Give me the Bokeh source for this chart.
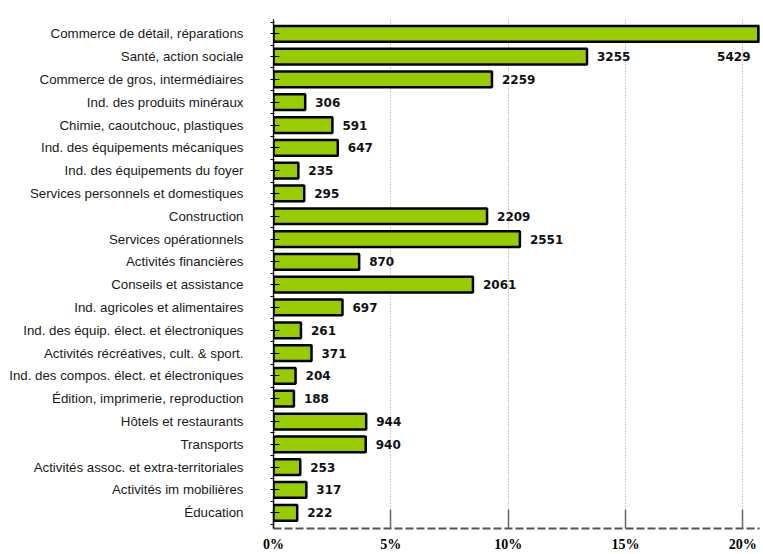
from bokeh.plotting import figure
from bokeh.models import Range1d, FixedTicker, PrintfTickFormatter, ColumnDataSource
from bokeh.core.properties import value
from bokeh.embed import file_html
from bokeh.resources import INLINE

categories = [
    "Commerce de détail, réparations",
    "Santé, action sociale",
    "Commerce de gros, intermédiaires",
    "Ind. des produits minéraux",
    "Chimie, caoutchouc, plastiques",
    "Ind. des équipements mécaniques",
    "Ind. des équipements du foyer",
    "Services personnels et domestiques",
    "Construction",
    "Services opérationnels",
    "Activités financières",
    "Conseils et assistance",
    "Ind. agricoles et alimentaires",
    "Ind. des équip. élect. et électroniques",
    "Activités récréatives, cult. & sport.",
    "Ind. des compos. élect. et électroniques",
    "Édition, imprimerie, reproduction",
    "Hôtels et restaurants",
    "Transports",
    "Activités assoc. et extra-territoriales",
    "Activités im mobilières",
    "Éducation",
]
counts = [5429, 3255, 2259, 306, 591, 647, 235, 295, 2209, 2551, 870, 2061,
          697, 261, 371, 204, 188, 944, 940, 253, 317, 222]
# share in percent
shares = [22.2, 13.36, 9.31, 1.35, 2.51, 2.74, 1.06, 1.31, 9.10, 10.50, 3.65, 8.50,
          2.94, 1.17, 1.62, 0.94, 0.87, 3.95, 3.93, 1.14, 1.40, 1.01]
x_ticks = [0, 5, 10, 15, 20]

n = len(categories)
rows = list(range(n))
X_END = 20.71

p = figure(width=763, height=554, output_backend="svg", toolbar_location=None,
           x_range=Range1d(0, X_END), y_range=Range1d(n - 0.31, -0.626),
           min_border_left=273, min_border_right=4, min_border_top=19,
           min_border_bottom=25)
p.outline_line_color = None
p.background_fill_color = "white"
p.border_fill_color = "white"

p.hbar(y=rows, left=0, right=shares, height=0.69, fill_color="#99CC00",
       line_color="black", line_width=2.5)

# right border of bars clipped by the plot area
clip_rows = [i for i in rows if shares[i] > X_END]
if clip_rows:
    p.segment(x0=[X_END - 0.05] * len(clip_rows), x1=[X_END - 0.05] * len(clip_rows),
              y0=[i - 0.345 for i in clip_rows], y1=[i + 0.345 for i in clip_rows],
              line_color="black", line_width=2.5)

inside = [i for i in rows if shares[i] <= X_END]
src_in = ColumnDataSource(dict(x=[shares[i] for i in inside], y=inside,
                               t=[str(counts[i]) for i in inside]))
p.text(x="x", y="y", text="t", source=src_in, x_offset=10, text_align="left",
       text_baseline="middle", text_font=value("DejaVu Sans"), text_font_style="bold",
       text_font_size="12px", text_color="#111111")
src_out = ColumnDataSource(dict(x=[X_END] * len(clip_rows), y=[i + 1 for i in clip_rows],
                                t=[str(counts[i]) for i in clip_rows]))
p.text(x="x", y="y", text="t", source=src_out, x_offset=-9, text_align="right",
       text_baseline="middle", text_font=value("DejaVu Sans"), text_font_style="bold",
       text_font_size="12px", text_color="#111111")

# y axis (categories)
ya = p.yaxis[0]
ya.ticker = FixedTicker(ticks=rows, minor_ticks=[i - 0.5 for i in range(n + 1)])
ya.major_label_overrides = {i: c for i, c in enumerate(categories)}
ya.major_label_text_font = "Liberation Sans"
ya.major_label_text_font_size = "13.3px"
ya.major_label_text_color = "#1a1a1a"
ya.major_label_standoff = 27
ya.axis_line_color = "black"
ya.axis_line_width = 1.3
ya.major_tick_in = 6
ya.major_tick_out = 3
ya.major_tick_line_color = "black"
ya.minor_tick_in = 1
ya.minor_tick_out = 3
ya.minor_tick_line_color = "black"

# x axis (percent)
xa = p.xaxis[0]
xa.ticker = FixedTicker(ticks=x_ticks, minor_ticks=[])
xa.formatter = PrintfTickFormatter(format="%d%%")
xa.major_label_text_font = "Liberation Serif"
xa.major_label_text_font_style = "bold"
xa.major_label_text_font_size = "14px"
xa.major_label_text_color = "black"
xa.major_label_standoff = 8
xa.axis_line_color = "#555555"
xa.axis_line_width = 2
xa.axis_line_dash = "8 3"
xa.major_tick_in = 19
xa.major_tick_out = 0
xa.major_tick_line_color = "#666666"
xa.major_tick_line_width = 1.5

p.ygrid.visible = False
p.xgrid.ticker = FixedTicker(ticks=x_ticks[1:])
p.xgrid.grid_line_color = "#9a9a9a"
p.xgrid.grid_line_dash = "1 2"
p.xgrid.grid_line_width = 1

open("out.html", "w").write(file_html(p, INLINE))
